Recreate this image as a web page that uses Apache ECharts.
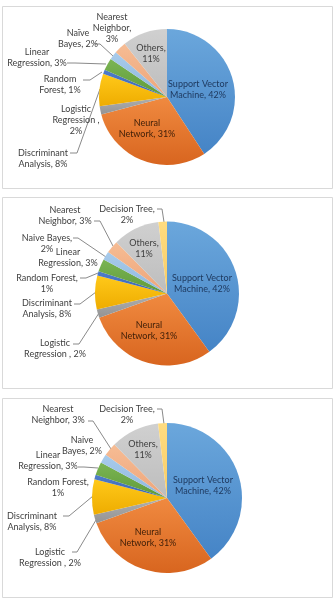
<!DOCTYPE html>
<html><head><meta charset="utf-8">
<script src="https://cdn.jsdelivr.net/npm/echarts@6/dist/echarts.min.js"></script>
<style>html,body{margin:0;padding:0;background:#fff}#c{width:334px;height:602px}</style>
</head><body><div id="c"></div>
<script>
// ---- data ----
const categories1 = ['Support Vector Machine','Neural Network','Logistic Regression','Discriminant Analysis','Random Forest','Linear Regression','Naïve Bayes','Nearest Neighbor','Others'];
const values1 = [42, 31, 2, 8, 1, 3, 2, 3, 11];
const categories2 = ['Support Vector Machine','Neural Network','Logistic Regression','Discriminant Analysis','Random Forest','Linear Regression','Naive Bayes','Nearest Neighbor','Others','Decision Tree'];
const values2 = [42, 31, 2, 8, 1, 3, 2, 3, 11, 2];
const categories3 = categories2.slice();
const values3 = [42, 31, 2, 8, 1, 3, 2, 3, 11, 2];
// label line-break templates ({v} = value)
const labelText1 = ['Support Vector\nMachine, {v}%','Neural\nNetwork, {v}%','Logistic\nRegression ,\n{v}%','Discriminant\nAnalysis, {v}%','Random\nForest, {v}%','Linear\nRegression, {v}%','Naïve\nBayes, {v}%','Nearest\nNeighbor,\n{v}%','Others,\n{v}%'];
const labelText2 = ['Support Vector\nMachine, {v}%','Neural\nNetwork, {v}%','Logistic\nRegression , {v}%','Discriminant\nAnalysis, {v}%','Random Forest,\n{v}%','Linear\nRegression, {v}%','Naive Bayes,\n{v}%','Nearest\nNeighbor, {v}%','Others,\n{v}%','Decision Tree,\n{v}%'];
const labelText3 = ['Support Vector\nMachine, {v}%','Neural\nNetwork, {v}%','Logistic\nRegression , {v}%','Discriminant\nAnalysis, {v}%','Random Forest,\n{v}%','Linear\nRegression, {v}%','Naive\nBayes, {v}%','Nearest\nNeighbor, {v}%','Others,\n{v}%','Decision Tree,\n{v}%'];

// ---- styles / layout ----
const colTop = ['#6ba7dc','#f08a40','#b0b0b0','#ffc91a','#4f7dcc','#7bb553','#a8cbeb','#f6bc94','#d0d0d0','#ffdc80'];
const colBot = ['#4584c6','#d8651f','#939393','#eeac00','#3a63b0','#5f9a3a','#8fb7de','#eda57a','#bdbdbd','#f8cc66'];
const inkOut = '#404040';
const inkIn = ['#1f3a60','#3d1e08',null,null,null,null,null,null,'#404040',null];
const pies = [
  {cx:167, cy:97, r:68, cats:categories1, vals:values1, txt:labelText1},
  {cx:167, cy:293.5, r:72, cats:categories2, vals:values2, txt:labelText2},
  {cx:167, cy:498, r:75, cats:categories3, vals:values3, txt:labelText3}
];
// label centres and leader lines per panel
const labelPos = [
  [[198,89.5],[147,129],[76,120],[43,158.5],[60,84.5],[37,57.5],[78,38.5],[112,28],[151,54]],
  [[202,283.5],[149,331],[55,349],[47,308.5],[47,283.5],[68,257.5],[47,243.5],[65,215.5],[144,248.5],[127,214.5]],
  [[203,486],[148,537.5],[50,557.5],[32,521.5],[58,488],[48,461],[82,445.5],[58,415],[143,450],[127,414.5]]
];
const leaders = [
  [null,null,null,[[70,153],[77,153],[100,89]],[[83,80],[90,80],[102,72]],[[67,63],[75,63],[106,64]],[[95,44],[100,44],[113,56]],null,null],
  [null,null,[[73,344],[79,344],[99,313]],[[74,304],[80,304],[96,292]],[[80,278],[86,278],[98,273]],null,[[73,238],[78,238],[106,257]],[[94,221],[100,221],[113,246]],null,[[157,209],[162,209],[164,222]]],
  [null,null,[[72,552],[77,552],[96,520]],[[63,516],[69,516],[93,496]],null,[[78,467],[84,467],[98,468]],null,[[88,421],[93,421],[111,449]],null,[[157,409],[162,409],[164,424]]]
];

const chart = echarts.init(document.getElementById('c'), null, {renderer:'canvas'});
const series = pies.map((p, si) => ({
  type: 'pie',
  center: [p.cx, p.cy],
  radius: [0, p.r],
  startAngle: 90,
  clockwise: true,
  avoidLabelOverlap: false,
  animation: false,
  silent: true,
  data: p.cats.map((name, i) => ({
    name: name,
    value: p.vals[i],
    itemStyle: {
      color: new echarts.graphic.LinearGradient(0,0,0,1,[{offset:0,color:colTop[i]},{offset:1,color:colBot[i]}]),
      borderWidth: 0
    },
    label: {
      color: inkIn[i] || inkOut,
      formatter: p.txt[i].replace('{v}', p.vals[i])
    },
    labelLine: {show: !!leaders[si][i]}
  })),
  label: {
    show: true,
    position: 'outside',
    fontFamily: 'Lato',
    fontSize: 9,
    lineHeight: 11,
    align: 'center'
  },
  labelLine: {
    show: true,
    lineStyle: {color: '#8a8a8a', width: 1}
  },
  labelLayout: function (params) {
    const pos = labelPos[params.seriesIndex][params.dataIndex];
    const ln = leaders[params.seriesIndex][params.dataIndex];
    const out = {x: pos[0], y: pos[1], align: 'center', verticalAlign: 'middle'};
    if (ln) out.labelLinePoints = ln;
    return out;
  }
}));

chart.setOption({
  backgroundColor: '#fff',
  graphic: [
    {type:'rect', shape:{x:2.5,y:6.5,width:330,height:182}, style:{fill:'none',stroke:'#d9d9d9',lineWidth:1}, silent:true},
    {type:'rect', shape:{x:2.5,y:197.5,width:330,height:191}, style:{fill:'none',stroke:'#d9d9d9',lineWidth:1}, silent:true},
    {type:'rect', shape:{x:2.5,y:398.5,width:330,height:199}, style:{fill:'none',stroke:'#d9d9d9',lineWidth:1}, silent:true}
  ],
  series: series
});
</script>
</body></html>
